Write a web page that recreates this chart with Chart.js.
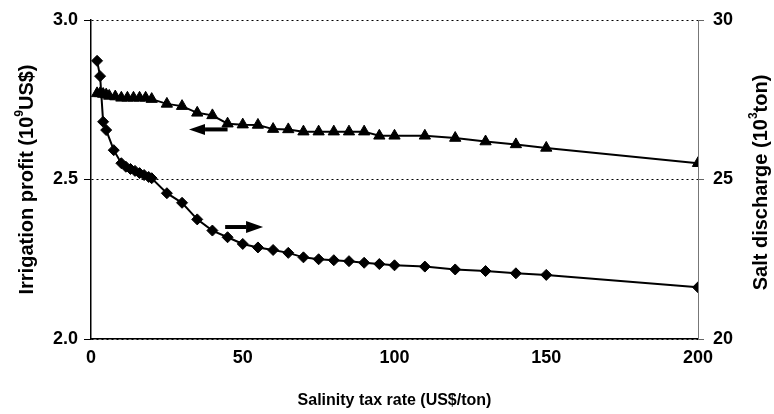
<!DOCTYPE html>
<html>
<head>
<meta charset="utf-8">
<script src="https://cdn.jsdelivr.net/npm/chart.js@4.4.0/dist/chart.umd.min.js"></script>
<style>
  html, body { margin: 0; padding: 0; background: #fff; }
</style>
</head>
<body>
<canvas id="chart" width="774" height="414"></canvas>
<script>
// irrigation profit (left axis, triangles)
const profitTax = [2, 3, 4, 5, 6, 8, 10, 12, 14, 16, 18, 20, 25, 30, 35, 40, 45, 50, 55, 60, 65, 70, 75, 80, 85, 90, 95, 100, 110, 120, 130, 140, 150, 200];
const profit = [2.770, 2.770, 2.768, 2.766, 2.762, 2.760, 2.756, 2.756, 2.756, 2.756, 2.756, 2.752, 2.737, 2.730, 2.709, 2.701, 2.675, 2.672, 2.671, 2.658, 2.657, 2.650, 2.650, 2.650, 2.650, 2.650, 2.637, 2.637, 2.637, 2.630, 2.619, 2.610, 2.599, 2.551];

// salt discharge (right axis, diamonds)
const saltTax = [2, 3, 4, 5, 7.5, 10, 11.5, 13, 14.5, 16, 17.5, 19, 20, 25, 30, 35, 40, 45, 50, 55, 60, 65, 70, 75, 80, 85, 90, 95, 100, 110, 120, 130, 140, 150, 200];
const salt = [28.72, 28.24, 26.81, 26.55, 25.92, 25.51, 25.40, 25.33, 25.27, 25.20, 25.14, 25.08, 25.04, 24.57, 24.27, 23.75, 23.40, 23.19, 22.98, 22.87, 22.79, 22.70, 22.56, 22.50, 22.47, 22.44, 22.39, 22.35, 22.31, 22.27, 22.18, 22.13, 22.06, 22.01, 21.62];

const xTicks = [0, 50, 100, 150, 200];
const profitTicks = [2.0, 2.5, 3.0];
const saltTicks = [20, 25, 30];

const FONT = "'Liberation Sans', Arial, sans-serif";

// rotated titles with a superscript part
function sideTitle(ctx, cx, cy, parts, size) {
  ctx.save();
  ctx.translate(cx, cy);
  ctx.rotate(-Math.PI / 2);
  ctx.fillStyle = '#000';
  ctx.textBaseline = 'middle';
  let total = 0;
  parts.forEach(p => {
    ctx.font = 'bold ' + (p.sup ? Math.round(size * 0.62) : size) + 'px ' + FONT;
    p.w = ctx.measureText(p.t).width;
    total += p.w;
  });
  let x = -total / 2;
  parts.forEach(p => {
    ctx.font = 'bold ' + (p.sup ? Math.round(size * 0.62) : size) + 'px ' + FONT;
    ctx.fillText(p.t, x, p.sup ? -size * 0.35 : 0);
    x += p.w;
  });
  ctx.restore();
}

function arrow(ctx, x1, x2, y, head, half) {
  const dir = Math.sign(x2 - x1);
  ctx.save();
  ctx.strokeStyle = '#000';
  ctx.fillStyle = '#000';
  ctx.lineWidth = 4;
  ctx.beginPath();
  ctx.moveTo(x1, y);
  ctx.lineTo(x2 - dir * head, y);
  ctx.stroke();
  ctx.beginPath();
  ctx.moveTo(x2, y);
  ctx.lineTo(x2 - dir * head, y - half);
  ctx.lineTo(x2 - dir * head, y + half);
  ctx.closePath();
  ctx.fill();
  ctx.restore();
}

const extras = {
  id: 'extras',
  afterDraw(chart) {
    const {ctx, chartArea, scales} = chart;
    const mid = (chartArea.top + chartArea.bottom) / 2;
    sideTitle(ctx, 27, mid, [{t: 'Irrigation profit (10'}, {t: '9', sup: true}, {t: 'US$)'}], 20);
    sideTitle(ctx, 761, mid + 3, [{t: 'Salt discharge (10'}, {t: '3', sup: true}, {t: 'ton)'}], 20);
    // arrows pointing to each series' axis
    const yl = scales.y.getPixelForValue(2.657);
    arrow(ctx, scales.x.getPixelForValue(45), scales.x.getPixelForValue(32.3), yl, 16, 5.5);
    const yr = scales.y1.getPixelForValue(23.51);
    arrow(ctx, scales.x.getPixelForValue(44.2), scales.x.getPixelForValue(56.7), yr, 17, 6);
  }
};

const tickFont = {family: FONT, size: 18, weight: 'bold'};

new Chart(document.getElementById('chart'), {
  type: 'line',
  data: {
    datasets: [
      {
        label: 'Irrigation profit',
        data: profitTax.map((x, i) => ({x: x, y: profit[i]})),
        yAxisID: 'y',
        borderColor: '#000',
        backgroundColor: '#000',
        borderWidth: 2,
        pointStyle: 'triangle',
        pointRadius: 6.5,
        pointBorderWidth: 1,
        tension: 0
      },
      {
        label: 'Salt discharge',
        data: saltTax.map((x, i) => ({x: x, y: salt[i]})),
        yAxisID: 'y1',
        borderColor: '#000',
        backgroundColor: '#000',
        borderWidth: 2,
        pointStyle: 'rectRot',
        pointRadius: 5.5,
        pointBorderWidth: 1,
        tension: 0
      }
    ]
  },
  options: {
    responsive: false,
    animation: false,
    layout: {padding: {top: 20, left: 0, right: 0, bottom: 0}},
    plugins: {legend: {display: false}, tooltip: {enabled: false}},
    scales: {
      x: {
        type: 'linear',
        min: 0,
        max: 200,
        afterBuildTicks: s => { s.ticks = xTicks.map(v => ({value: v})); },
        afterFit: s => { s.height = 75; },
        grid: {display: false, drawTicks: false},
        border: {color: '#000', width: 1.5},
        ticks: {font: tickFont, color: '#000', padding: 8, maxRotation: 0},
        title: {display: true, text: 'Salinity tax rate (US$/ton)', font: {family: FONT, size: 16, weight: 'bold'}, color: '#000', padding: {top: 0, bottom: 4}}
      },
      y: {
        position: 'left',
        min: 2,
        max: 3,
        afterBuildTicks: s => { s.ticks = profitTicks.map(v => ({value: v})); },
        afterFit: s => { s.width = 91; },
        grid: {color: '#000', lineWidth: 1, tickLength: 7, tickColor: '#000', tickWidth: 1},
        border: {color: '#000', width: 1.5, dash: [2, 3]},
        ticks: {font: tickFont, color: '#000', padding: 6, callback: v => v.toFixed(1)}
      },
      y1: {
        position: 'right',
        min: 20,
        max: 30,
        afterBuildTicks: s => { s.ticks = saltTicks.map(v => ({value: v})); },
        afterFit: s => { s.width = 76; },
        grid: {drawOnChartArea: false, tickLength: 6, tickColor: '#666', tickWidth: 1},
        border: {color: '#777', width: 1},
        ticks: {font: tickFont, color: '#000', padding: 9, callback: v => String(v)}
      }
    }
  },
  plugins: [extras]
});
</script>
</body>
</html>
